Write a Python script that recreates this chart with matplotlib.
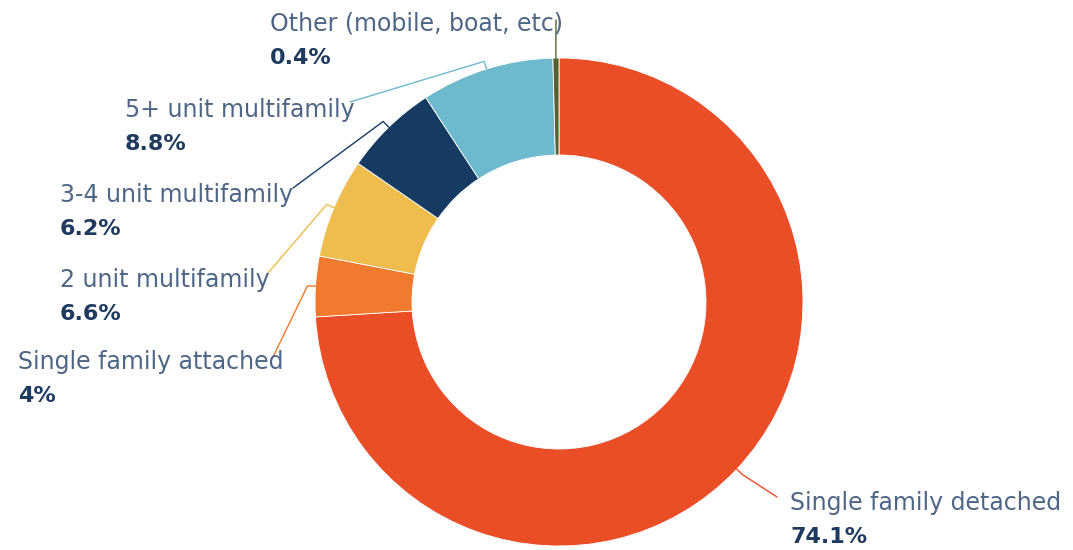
import numpy as np
import matplotlib.pyplot as plt

# housing stock share by building type
labels = ["Single family detached", "Single family attached", "2 unit multifamily",
          "3-4 unit multifamily", "5+ unit multifamily", "Other (mobile, boat, etc)"]
shares = [74.1, 4, 6.6, 6.2, 8.8, 0.4]
pct_text = ["74.1%", "4%", "6.6%", "6.2%", "8.8%", "0.4%"]
colors = ["#EA4E27", "#F07A2E", "#EFBD4D", "#163B62", "#6DB9CD", "#55622F"]

W, H = 1073, 550
name_color = "#4D6686"
pct_color = "#1E3A5E"

fig = plt.figure(figsize=(W / 100, H / 100), dpi=100)
ax = fig.add_axes([0, 0, 1, 1])

cx, cy, R = 559, 248, 244
wedges, _ = ax.pie(shares, colors=colors, startangle=90, counterclock=False,
                   center=(cx, cy), radius=R, frame=True,
                   wedgeprops=dict(width=97, linewidth=0.6, edgecolor="white"))
ax.set_xlim(0, W)
ax.set_ylim(0, H)
ax.set_aspect("equal")
ax.axis("off")

# label text anchors (left x, name line y) and leader end points
text_pos = [(790, 47), (18, 188), (60, 270), (60, 355), (125, 440), (270, 526)]
leader_end = [(777, 53), (273, 193), (268, 277), (293, 362), (350, 448), (556, 530)]

plt.rcParams["font.family"] = ["DejaVu Sans"]
for w, lab, pct, c, (tx, ty), (ex, ey) in zip(wedges, labels, pct_text, colors,
                                               text_pos, leader_end):
    mid = np.deg2rad((w.theta1 + w.theta2) / 2)
    x0, y0 = cx + R * np.cos(mid), cy + R * np.sin(mid)
    x1, y1 = cx + (R + 8) * np.cos(mid), cy + (R + 8) * np.sin(mid)
    ax.plot([x0, x1, ex], [y0, y1, ey], color=c, lw=1.0, solid_capstyle="round")
    ax.text(tx, ty, lab, fontsize=17, color=name_color, va="center", ha="left")
    ax.text(tx, ty - 34, pct, fontsize=16, color=pct_color, va="center", ha="left",
            fontweight="bold")

fig.savefig("out.png", dpi=100, facecolor="white")
